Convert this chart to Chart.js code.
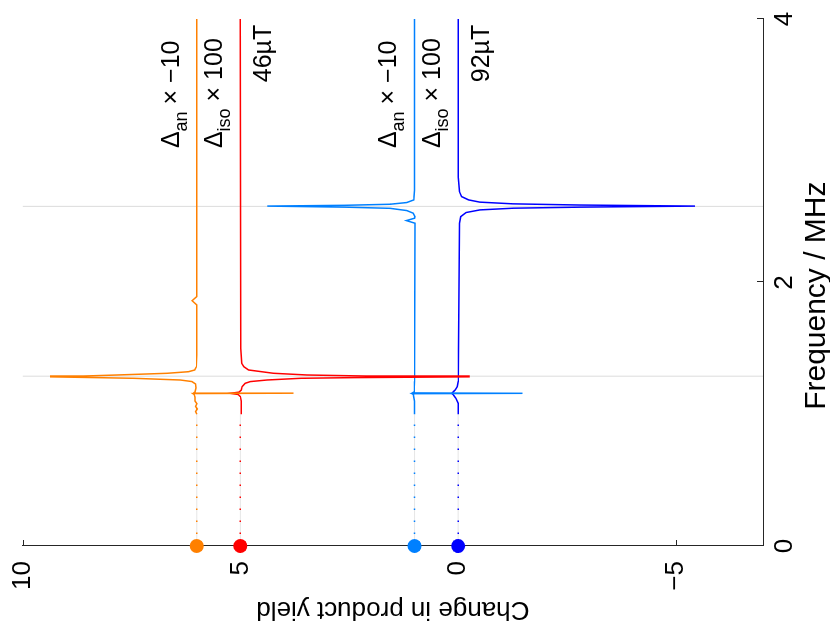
<!DOCTYPE html>
<html>
<head>
<meta charset="utf-8">
<script src="https://cdn.jsdelivr.net/npm/chart.js@4.4.1/dist/chart.umd.min.js"></script>
<style>
  html, body { margin: 0; padding: 0; background: #fff; overflow: hidden; }
  body { width: 830px; height: 625px; position: relative; }
  /* the figure is drawn upright and then turned a quarter turn */
  #frame {
    position: absolute; left: 0; top: 625px;
    width: 625px; height: 830px;
    transform-origin: 0 0; transform: rotate(-90deg);
  }
</style>
</head>
<body>
<div id="frame"><canvas id="chart" width="625" height="830"></canvas></div>
<script>
// Frequency (MHz) and change in product yield
const an46Freq = [1.00, 1.02, 1.04, 1.06, 1.08, 1.10, 1.13, 1.150, 1.157, 1.159, 1.161, 1.17, 1.20, 1.23, 1.248, 1.26, 1.273, 1.278, 1.284, 1.290, 1.298, 1.311, 1.323, 1.336, 1.36, 1.45, 1.83, 1.862, 1.893, 2.5, 3.0, 4.0];
const an46Val  = [6.00, 6.03, 5.99, 6.03, 6.00, 6.04, 6.04, 6.06, 6.09, 3.78, 6.08, 6.04, 6.02, 6.03, 6.11, 6.38, 7.45, 8.30, 9.37, 8.60, 7.83, 6.68, 6.19, 6.05, 6.01, 6.00, 6.00, 6.11, 6.00, 6.00, 6.00, 6.00];

const iso46Freq = [1.00, 1.10, 1.134, 1.150, 1.159, 1.168, 1.184, 1.21, 1.235, 1.248, 1.26, 1.273, 1.278, 1.284, 1.290, 1.298, 1.311, 1.336, 1.361, 1.387, 1.5, 4.0];
const iso46Val  = [4.98, 4.98, 5.00, 5.05, 5.23, 5.03, 4.98, 4.96, 4.89, 4.77, 4.39, 3.62, 2.40, -0.25, 2.10, 3.47, 4.24, 4.81, 4.92, 4.97, 4.99, 5.00];

const an92Freq = [1.00, 1.10, 1.150, 1.156, 1.159, 1.162, 1.17, 1.25, 2.45, 2.47, 2.488, 2.50, 2.526, 2.546, 2.563, 2.572, 2.580, 2.586, 2.594, 2.607, 2.627, 2.7, 4.0];
const an92Val  = [1.00, 1.00, 1.03, 1.06, -1.48, 1.05, 1.01, 1.00, 0.99, 1.19, 1.00, 0.99, 1.03, 1.18, 1.56, 2.60, 4.38, 2.60, 1.56, 1.18, 1.02, 1.00, 1.00];

const iso92Freq = [1.00, 1.083, 1.121, 1.147, 1.159, 1.167, 1.184, 1.21, 1.25, 2.45, 2.50, 2.531, 2.551, 2.564, 2.572, 2.580, 2.588, 2.597, 2.61, 2.627, 2.652, 2.69, 2.8, 4.0];
const iso92Val  = [0.00, 0.00, 0.05, 0.11, 0.145, 0.12, 0.07, 0.02, 0.00, -0.03, -0.06, -0.18, -0.50, -1.26, -2.80, -5.44, -2.80, -1.26, -0.50, -0.24, -0.08, -0.03, 0.00, 0.00];

// static (zero field) values joined by the dotted lead-in
const leadFreq = [0, 1.0];
const staticVal = [6.00, 5.00, 1.00, 0.00];

const larmorFreq = [1.289, 2.578];
const freqTicks = [0, 2, 4];
const yieldTicks = [10, 5, 0, -5];

const colours = ['#ff8000', '#ff0000', '#0080ff', '#0000ff'];

// text labels next to the traces
const noteFreq = [3.02, 3.02, 3.52, 3.02, 3.02, 3.52];
const noteVal  = [6.42, 5.42, 4.29, 1.43, 0.42, -0.71];
const noteMain = ['Δ', 'Δ', '46µT', 'Δ', 'Δ', '92µT'];
const noteSub  = ['an', 'iso', '', 'an', 'iso', ''];
const noteTail = [' × −10', ' × 100', '', ' × −10', ' × 100', ''];

const freqTitle = 'Frequency / MHz';

const font = '"Liberation Sans", Arial, Helvetica, sans-serif';
const axisColour = '#262626';

function toPoints(fs, vs) {
    return fs.map((f, i) => ({ x: f, y: vs[i] }));
}

function solid(fs, vs, colour) {
    return {
        data: toPoints(fs, vs),
        showLine: true,
        borderColor: colour,
        borderWidth: 1.5,
        pointRadius: 0,
        tension: 0
    };
}

function buildDatasets() {
    const sets = [
        solid(an46Freq, an46Val, colours[0]),
        solid(iso46Freq, iso46Val, colours[1]),
        solid(an92Freq, an92Val, colours[2]),
        solid(iso92Freq, iso92Val, colours[3])
    ];
    // dotted lead-ins with the zero-frequency marker
    for (let i = 0; i < staticVal.length; i++) {
        sets.push({
            data: leadFreq.map(f => ({ x: f, y: staticVal[i] })),
            showLine: true,
            borderColor: colours[i],
            borderWidth: 1.5,
            borderDash: [1.5, 10.5],
            pointRadius: [7, 0],
            pointBackgroundColor: colours[i],
            pointBorderWidth: 0,
            clip: false
        });
    }
    // faint line under the dots
    for (let i = 0; i < staticVal.length; i++) {
        sets.push({
            data: leadFreq.map(f => ({ x: f, y: staticVal[i] })),
            showLine: true,
            borderColor: '#e6e6e6',
            borderWidth: 1,
            pointRadius: 0
        });
    }
    // Larmor frequency markers
    for (let i = 0; i < larmorFreq.length; i++) {
        sets.push({
            data: [{ x: larmorFreq[i], y: -7 }, { x: larmorFreq[i], y: 10 }],
            showLine: true,
            borderColor: '#dcdcdc',
            borderWidth: 1,
            pointRadius: 0
        });
    }
    return sets;
}

const tickMarks = {
    id: 'tickMarks',
    beforeDatasetsDraw(chart) {
        const { ctx, scales: { x, y } } = chart;
        ctx.save();
        ctx.strokeStyle = axisColour;
        ctx.lineWidth = 1;
        freqTicks.forEach(f => {
            const px = Math.round(x.getPixelForValue(f)) + 0.5;
            ctx.beginPath();
            ctx.moveTo(px, y.bottom);
            ctx.lineTo(px, y.bottom - 6);
            ctx.stroke();
        });
        yieldTicks.forEach(v => {
            const py = Math.round(y.getPixelForValue(v)) + 0.5;
            ctx.beginPath();
            ctx.moveTo(x.left, py);
            ctx.lineTo(x.left + 6, py);
            ctx.stroke();
        });
        ctx.restore();
    },
    afterDraw(chart) {
        const { ctx, scales: { x, y } } = chart;
        ctx.save();
        ctx.fillStyle = '#000';
        ctx.textBaseline = 'alphabetic';
        ctx.textAlign = 'left';
        for (let i = 0; i < noteMain.length; i++) {
            let cx = x.getPixelForValue(noteFreq[i]);
            const cy = y.getPixelForValue(noteVal[i]);
            ctx.font = '25px ' + font;
            ctx.fillText(noteMain[i], cx, cy);
            cx += ctx.measureText(noteMain[i]).width;
            if (noteSub[i]) {
                ctx.font = '18px ' + font;
                ctx.fillText(noteSub[i], cx, cy + 8);
                cx += ctx.measureText(noteSub[i]).width;
            }
            if (noteTail[i]) {
                ctx.font = '25px ' + font;
                ctx.fillText(noteTail[i], cx, cy);
            }
        }
        // frequency axis title sits a little off the axis centre
        ctx.textAlign = 'center';
        ctx.font = '30px ' + font;
        ctx.fillText(freqTitle, x.getPixelForValue(1.9), chart.height - 5);
        ctx.restore();
    }
};

new Chart(document.getElementById('chart'), {
    type: 'scatter',
    data: { datasets: buildDatasets() },
    options: {
        responsive: false,
        animation: false,
        layout: { padding: { top: 22, right: 19, left: 0, bottom: 0 } },
        plugins: { legend: { display: false }, tooltip: { enabled: false } },
        scales: {
            x: {
                type: 'linear',
                min: 0,
                max: 4,
                afterFit: s => { s.height = 67; },
                grid: { display: false },
                border: { display: true, color: axisColour, width: 1 },
                ticks: {
                    stepSize: 2,
                    maxRotation: 0,
                    padding: -2,
                    color: '#000',
                    font: { family: font, size: 26 }
                },
                title: { display: false }
            },
            y: {
                type: 'linear',
                min: -7,
                max: 10,
                afterFit: s => { s.width = 79; },
                grid: { display: false },
                border: { display: true, color: axisColour, width: 1 },
                ticks: {
                    stepSize: 5,
                    includeBounds: false,
                    padding: 7,
                    color: '#000',
                    font: { family: font, size: 26 },
                    callback: v => String(v).replace('-', '−')
                },
                title: {
                    display: true,
                    text: 'Change in product yield',
                    color: '#000',
                    font: { family: font, size: 26 },
                    padding: { top: 0, bottom: 0 }
                }
            }
        }
    },
    plugins: [tickMarks]
});
</script>
</body>
</html>
